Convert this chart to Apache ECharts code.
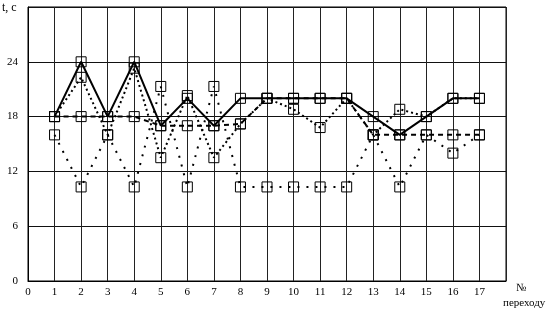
<!DOCTYPE html>
<html><head><meta charset="utf-8">
<script src="https://cdn.jsdelivr.net/npm/echarts@6/dist/echarts.min.js"></script>
<style>html,body{margin:0;padding:0;background:#fff}#c{width:550px;height:313px}</style>
</head><body><div id="c"></div>
<script>
const transitions = [1,2,3,4,5,6,7,8,9,10,11,12,13,14,15,16,17];
const seriesSolid  = [18,24,18,24,17,20,17,20,20,20,20,20,18,16,18,20,20];
const seriesDashed = [18,18,18,18,17,17,17,17.2,20,20,20,20,16,16,16,16,16];
const seriesDotted = [18,22.3,16,23.3,13.5,20.3,13.5,17.2,20,18.8,16.8,20,16,18.8,18,20,20];
const seriesSparse = [16,10.3,16,10.3,21.3,10.3,21.3,10.3,10.3,10.3,10.3,10.3,16,10.3,16,14,16];
const yTicks = [0,6,12,18,24];
const xTicks = [0,1,2,3,4,5,6,7,8,9,10,11,12,13,14,15,16,17];

const font = 'Liberation Serif';
function pairs(v){ return transitions.map((x,i)=>[x,v[i]]); }
function mk(name, vals, lineType, width){
  return {
    name, type:'line', data:pairs(vals),
    symbol:'rect', symbolSize:10, showSymbol:true,
    lineStyle:{color:'#000', width:width, type:lineType},
    itemStyle:{color:'rgba(255,255,255,0)', borderColor:'#000', borderWidth:1},
    z: 3, animation:false
  };
}
const chart = echarts.init(document.getElementById('c'), null, {renderer:'canvas'});
chart.setOption({
  animation:false,
  grid:{left:28, right:44, top:7, bottom:32, show:true, borderColor:'#000', borderWidth:1},
  xAxis:{type:'value', min:0, max:18, interval:1,
    axisLine:{lineStyle:{color:'#000'}}, axisTick:{show:false},
    axisLabel:{fontFamily:font, fontSize:11, color:'#000', margin:6,
      formatter:v=> xTicks.includes(v) ? String(v) : ''},
    splitLine:{show:true, lineStyle:{color:'#222', width:1}}},
  yAxis:{type:'value', min:0, max:30, interval:6,
    axisLine:{lineStyle:{color:'#000'}}, axisTick:{show:false},
    axisLabel:{fontFamily:font, fontSize:11, color:'#000', margin:10,
      formatter:v=> yTicks.includes(v) ? String(v) : ''},
    splitLine:{show:true, lineStyle:{color:'#111', width:1}}},
  series:[
    mk('sparse', seriesSparse, [2,7], 2),
    mk('dotted', seriesDotted, [2,3], 2),
    mk('dashed', seriesDashed, [5,4], 2),
    mk('solid', seriesSolid, 'solid', 2)
  ],
  graphic:[
    {type:'text', left:2, top:2, style:{text:'t, c', font:'12px "Liberation Serif"', fill:'#000'}},
    {type:'text', left:516, top:283, style:{text:'№', font:'11px "Liberation Serif"', fill:'#000'}},
    {type:'text', left:503, top:298, style:{text:'переходу', font:'11px "Liberation Serif"', fill:'#000'}}
  ]
});
</script></body></html>
